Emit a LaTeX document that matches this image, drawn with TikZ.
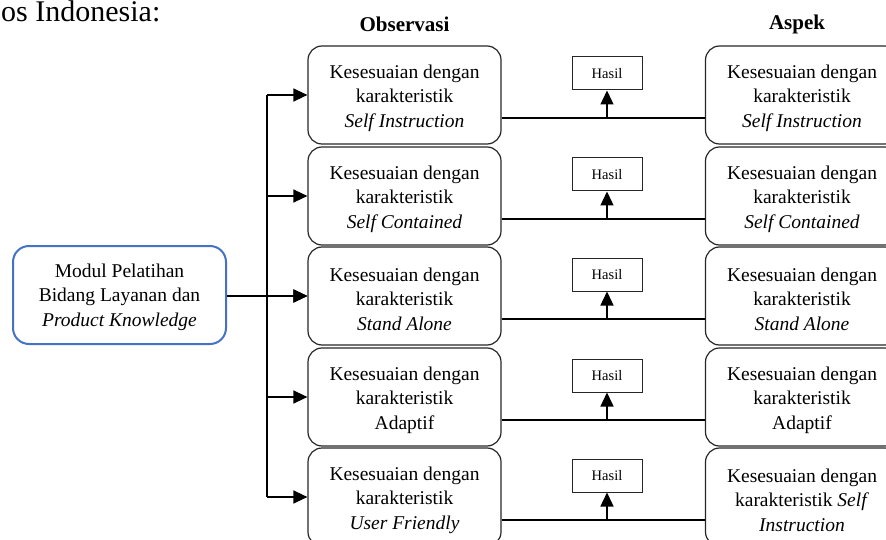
\documentclass[tikz,border=0pt]{standalone}
\usepackage{fontspec}
\setmainfont{Liberation Serif}
\usetikzlibrary{arrows.meta}
\definecolor{boxblue}{HTML}{4472C4}
\begin{document}
\begin{tikzpicture}[x=1pt,y=-1pt,
  rbox/.style={draw=black!85, line width=1.2pt, rounded corners=14pt, minimum width=193pt, minimum height=98pt, inner sep=0pt},
  lbox/.style={draw=boxblue, line width=2pt, rounded corners=16pt, minimum width=213pt, minimum height=98pt, inner sep=0pt},
  txt/.style={inner sep=0pt, align=center, font=\fontsize{19.5}{24.5}\selectfont},
  hbox/.style={draw=black!85, line width=1pt, minimum width=70pt, minimum height=33pt, inner sep=0pt, font=\fontsize{14.5}{16}\selectfont},
  head/.style={font=\fontsize{21}{25}\selectfont\bfseries},
  conn/.style={draw=black, line width=1.4pt},
  arr/.style={conn, -{Triangle[length=14pt,width=13pt]}}]
\useasboundingbox (0,0) rectangle (886,540);
\node[anchor=base west, inner sep=0pt, font=\fontsize{30}{34}\selectfont] (top) at (1,22) {os Indonesia:};
\begin{scope}
\clip (0,0) rectangle (886,540);
\node[head] (ho) at (404.5,24) {Observasi};
\node[head] (ha) at (797,24) {Aspek};
\node[lbox] (lb) at (119.5,295) {};
\node[txt] (lbt) at ([yshift=-2pt]lb.center) {Modul Pelatihan\\Bidang Layanan dan\\\textit{Product Knowledge}};
\coordinate (trunk) at (267,0);
% rows
\foreach \i/\yc in {1/95,2/196,3/296,4/397,5/497}{
  \node[rbox] (m\i) at (404.5,\yc) {};
  \node[rbox] (a\i) at (802,\yc) {};
}
\node[txt] (m1t) at ([yshift=-3pt]m1.center) {Kesesuaian dengan\\karakteristik\\\textit{Self Instruction}};
\node[txt] (m2t) at ([yshift=-3pt]m2.center) {Kesesuaian dengan\\karakteristik\\\textit{Self Contained}};
\node[txt] (m3t) at ([yshift=-3pt]m3.center) {Kesesuaian dengan\\karakteristik\\\textit{Stand Alone}};
\node[txt] (m4t) at ([yshift=-3pt]m4.center) {Kesesuaian dengan\\karakteristik\\Adaptif};
\node[txt] (m5t) at ([yshift=-3pt]m5.center) {Kesesuaian dengan\\karakteristik\\\textit{User Friendly}};
\node[txt] (a1t) at ([yshift=-3pt]a1.center) {Kesesuaian dengan\\karakteristik\\\textit{Self Instruction}};
\node[txt] (a2t) at ([yshift=-3pt]a2.center) {Kesesuaian dengan\\karakteristik\\\textit{Self Contained}};
\node[txt] (a3t) at ([yshift=-3pt]a3.center) {Kesesuaian dengan\\karakteristik\\\textit{Stand Alone}};
\node[txt] (a4t) at ([yshift=-3pt]a4.center) {Kesesuaian dengan\\karakteristik\\Adaptif};
\node[txt] (a5t) at ([yshift=-3pt]a5.center) {Kesesuaian dengan\\karakteristik \textit{Self}\\\textit{Instruction}};
\foreach \i/\y in {1/0,2/101,3/201,4/302,5/402}{
  \node[hbox] (h\i) at (607,73.5+\y) {Hasil};
  \coordinate (j\i) at (607,118+\y);
  \draw[conn] (m\i.east |- j\i) -- (a\i.west |- j\i);
  \draw[arr] (j\i) -- (h\i.south);
  \draw[arr] (m\i.west -| trunk) -- (m\i.west);
}
\draw[conn] (m1.west -| trunk) -- (m5.west -| trunk);
\draw[arr] (lb.east |- m3.west) -- (m3.west);
\end{scope}
\end{tikzpicture}
\end{document}
